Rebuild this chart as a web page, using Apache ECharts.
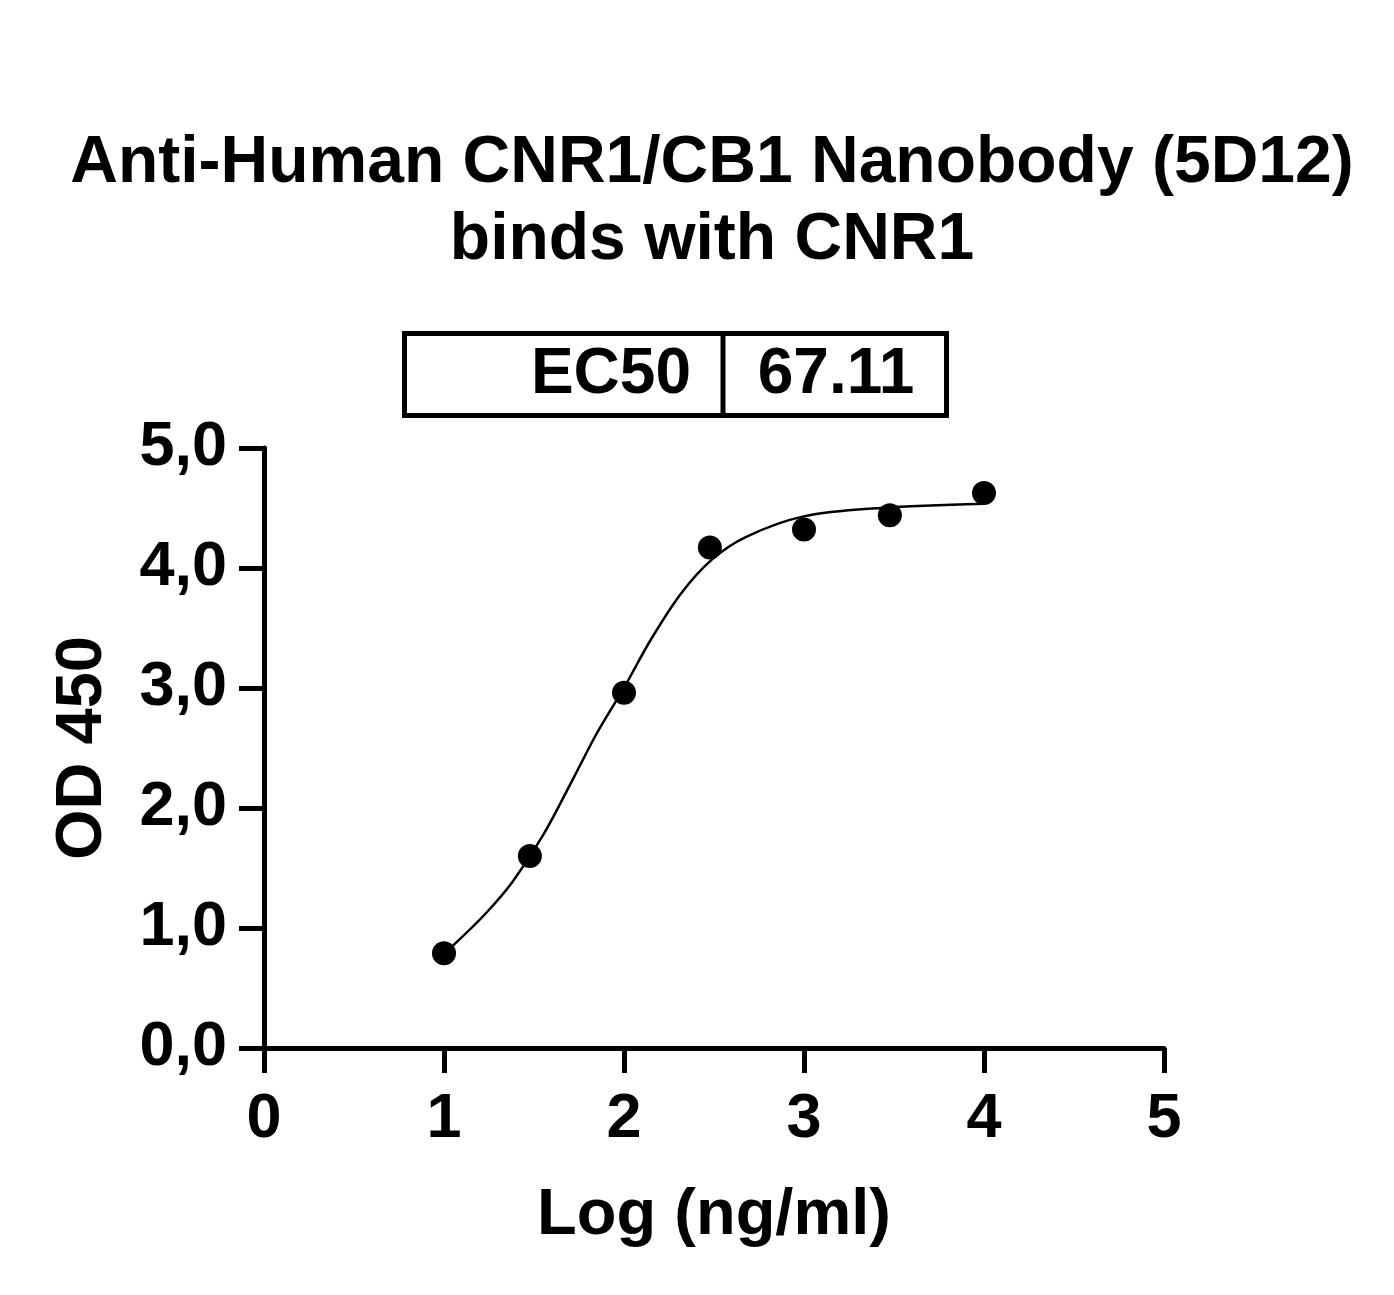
<!DOCTYPE html>
<html>
<head>
<meta charset="utf-8">
<script src="https://cdn.jsdelivr.net/npm/echarts@6/dist/echarts.min.js"></script>
<style>
html,body{margin:0;padding:0;background:#fff;}
#chart{width:1394px;height:1295px;}
</style>
</head>
<body>
<div id="chart"></div>
<script>
// Measured points: log10 concentration (ng/ml) vs OD 450
const pointX = [1, 1.477, 2, 2.477, 3, 3.477, 4];
const pointY = [0.79, 1.60, 2.96, 4.17, 4.32, 4.44, 4.625];

// Fitted curve
const curveX = [1.0, 1.054, 1.234, 1.383, 1.553, 1.723, 1.85, 2.003, 2.148, 2.318, 2.488, 2.679, 2.998, 3.423, 3.997];
const curveY = [0.80, 0.86, 1.125, 1.39, 1.78, 2.26, 2.625, 3.01, 3.40, 3.79, 4.07, 4.26, 4.43, 4.50, 4.536];

const xTicks = [0, 1, 2, 3, 4, 5];
const yTicks = [0, 1, 2, 3, 4, 5];

const titleLines = ['Anti-Human CNR1/CB1 Nanobody (5D12)', 'binds with CNR1'];
const ec50Label = 'EC50';
const ec50Value = '67.11';
const xName = 'Log (ng/ml)';
const yName = 'OD 450';

const FONT = '"Liberation Sans", Arial, Helvetica, sans-serif';

const chart = echarts.init(document.getElementById('chart'), null, {renderer: 'canvas'});

const axisCommon = {
  axisLine: {show: true, lineStyle: {color: '#000', width: 5}},
  axisTick: {show: true, inside: false, length: 25, lineStyle: {color: '#000', width: 5}},
  splitLine: {show: false}
};

chart.setOption({
  backgroundColor: '#fff',
  animation: false,
  grid: {left: 264, top: 448, width: 900, height: 600, containLabel: false},
  xAxis: Object.assign({
    type: 'value', min: xTicks[0], max: xTicks[xTicks.length - 1], interval: 1,
    name: xName, nameLocation: 'middle', nameGap: 136,
    nameTextStyle: {fontFamily: FONT, fontWeight: 'bold', fontSize: 65, color: '#000'},
    axisLabel: {margin: 40, fontFamily: FONT, fontWeight: 'bold', fontSize: 63, color: '#000'}
  }, axisCommon),
  yAxis: Object.assign({
    type: 'value', min: yTicks[0], max: yTicks[yTicks.length - 1], interval: 1,
    name: yName, nameLocation: 'middle', nameGap: 148, nameRotate: 90,
    nameTextStyle: {fontFamily: FONT, fontWeight: 'bold', fontSize: 65, color: '#000'},
    axisLabel: {margin: 37, fontFamily: FONT, fontWeight: 'bold', fontSize: 63, color: '#000',
      formatter: v => v.toFixed(1).replace('.', ',')}
  }, axisCommon),
  graphic: [
    {type: 'text', x: 712, y: 164, style: {text: titleLines[0], font: 'bold 66px ' + FONT, fill: '#000', textAlign: 'center', textVerticalAlign: 'middle'}},
    {type: 'text', x: 712, y: 241, style: {text: titleLines[1], font: 'bold 66px ' + FONT, fill: '#000', textAlign: 'center', textVerticalAlign: 'middle'}},
    {type: 'rect', shape: {x: 404.5, y: 333.5, width: 542, height: 82}, style: {fill: 'none', stroke: '#000', lineWidth: 5}},
    {type: 'line', shape: {x1: 723, y1: 333, x2: 723, y2: 416}, style: {stroke: '#000', lineWidth: 5}},
    {type: 'text', x: 691, y: 375, style: {text: ec50Label, font: 'bold 64px ' + FONT, fill: '#000', textAlign: 'right', textVerticalAlign: 'middle'}},
    {type: 'text', x: 836, y: 375, style: {text: ec50Value, font: 'bold 64px ' + FONT, fill: '#000', textAlign: 'center', textVerticalAlign: 'middle'}}
  ],
  series: [
    {
      type: 'line', data: curveX.map((x, i) => [x, curveY[i]]),
      smooth: 0.35, symbol: 'none', lineStyle: {color: '#000', width: 2.5}, z: 2
    },
    {
      type: 'scatter', data: pointX.map((x, i) => [x, pointY[i]]),
      symbol: 'circle', symbolSize: 24, itemStyle: {color: '#000', opacity: 1}, z: 3
    }
  ]
});
</script>
</body>
</html>
